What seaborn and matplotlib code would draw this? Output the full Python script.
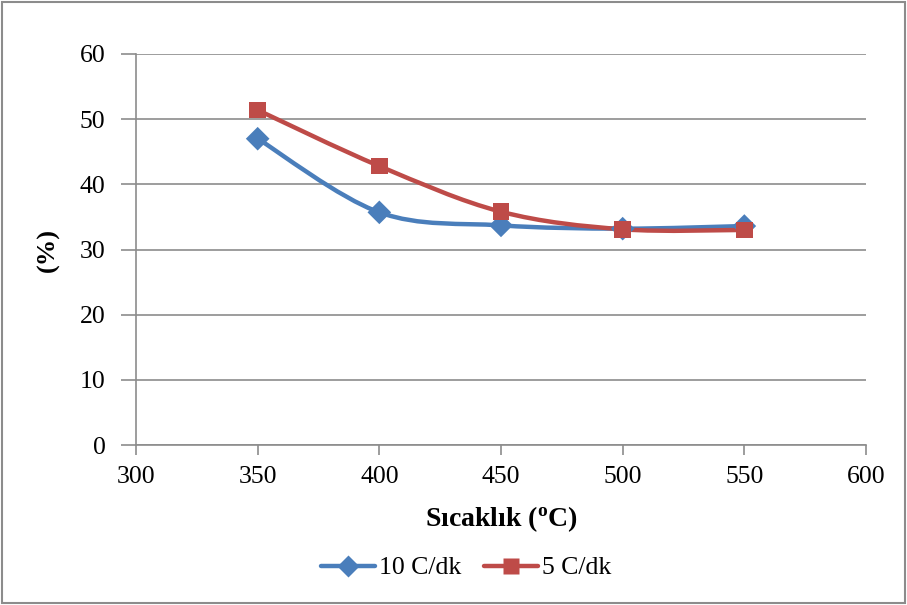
import matplotlib
matplotlib.use("Agg")
import matplotlib.pyplot as plt
from matplotlib.path import Path
from matplotlib.patches import PathPatch
from matplotlib.lines import Line2D
import seaborn as sns
import pandas as pd
import numpy as np

temps = [350, 400, 450, 500, 550]
rate10 = [47.0, 35.7, 33.7, 33.2, 33.6]
rate5 = [51.4, 42.8, 35.8, 33.1, 33.0]
series_names = ["10 C/dk", "5 C/dk"]
xticks = [300, 350, 400, 450, 500, 550, 600]
yticks = [0, 10, 20, 30, 40, 50, 60]

sns.set_theme(style="white")
plt.rcParams['font.family'] = ['Liberation Serif', 'DejaVu Serif']
plt.rcParams['mathtext.fontset'] = 'custom'
plt.rcParams['mathtext.rm'] = 'Liberation Serif'
plt.rcParams['mathtext.bf'] = 'Liberation Serif:bold'
plt.rcParams['text.color'] = 'black'
plt.rcParams['axes.labelcolor'] = 'black'

blue = "#4A7EBB"
red = "#BE4B48"
gray = "#8c8c8c"

fig = plt.figure(figsize=(9.07, 6.05), dpi=100)
ax = fig.add_axes([136/907, 1-445/605, (866-136)/907, (445-54)/605])

df = pd.DataFrame({
    "temp": temps * 2,
    "val": rate10 + rate5,
    "series": [series_names[0]] * len(temps) + [series_names[1]] * len(temps),
})

def smooth_path(xs, ys):
    # Excel-like smoothed line: cubic Bezier through data points
    pts = np.column_stack([xs, ys]).astype(float)
    n = len(pts)
    verts = [tuple(pts[0])]
    codes = [Path.MOVETO]
    t = 1/6
    for i in range(n - 1):
        p0 = pts[i - 1] if i > 0 else pts[i]
        p1 = pts[i]
        p2 = pts[i + 1]
        p3 = pts[i + 2] if i + 2 < n else pts[i + 1]
        c1 = p1 + (p2 - p0) * t
        c2 = p2 - (p3 - p1) * t
        verts += [tuple(c1), tuple(c2), tuple(p2)]
        codes += [Path.CURVE4] * 3
    return Path(verts, codes)

for name, vals, col in [(series_names[0], rate10, blue), (series_names[1], rate5, red)]:
    ax.add_patch(PathPatch(smooth_path(temps, vals), facecolor="none",
                           edgecolor=col, lw=3.2, zorder=3, capstyle="round"))

sns.scatterplot(data=df, x="temp", y="val", hue="series", style="series",
                markers={series_names[0]: "D", series_names[1]: "s"},
                palette={series_names[0]: blue, series_names[1]: red},
                s=145, edgecolor="none", ax=ax, zorder=4, legend=False)

ax.set_xlim(300, 600)
ax.set_ylim(0, 60)
ax.set_xticks(xticks)
ax.set_yticks(yticks)
ax.tick_params(axis="both", labelsize=18.5, labelcolor="black", width=1.2,
               direction="out", color=gray)
ax.tick_params(axis="x", bottom=True, length=7, pad=8)
ax.tick_params(axis="y", left=True, length=11, pad=11)
ax.grid(axis="y", color=gray, lw=1.2)
ax.grid(axis="x", visible=False)
ax.set_axisbelow(True)
for s in ["top", "right"]:
    ax.spines[s].set_visible(False)
for s in ["left", "bottom"]:
    ax.spines[s].set_color(gray)
    ax.spines[s].set_linewidth(1.2)

ax.set_xlabel(r"Sıcaklık ($\mathbf{^o}$C)", fontsize=20, fontweight="bold", labelpad=12)
ax.set_ylabel("(%)", fontsize=19, fontweight="bold", labelpad=14)

handles = [
    Line2D([], [], color=blue, lw=3.2, marker="D", markersize=11, markeredgecolor="none"),
    Line2D([], [], color=red, lw=3.2, marker="s", markersize=11, markeredgecolor="none"),
]
fig.legend(handles, series_names, loc="center", bbox_to_anchor=(0.514, 1-568/605),
           ncol=2, frameon=False, fontsize=18.5, handlelength=2.1, columnspacing=0.9,
           handletextpad=0.15)

border = plt.Rectangle((0.002, 0.003), 0.996, 0.994, transform=fig.transFigure,
                       fill=False, edgecolor=gray, lw=1.5)
fig.patches.append(border)

fig.savefig("out.png", dpi=100)
